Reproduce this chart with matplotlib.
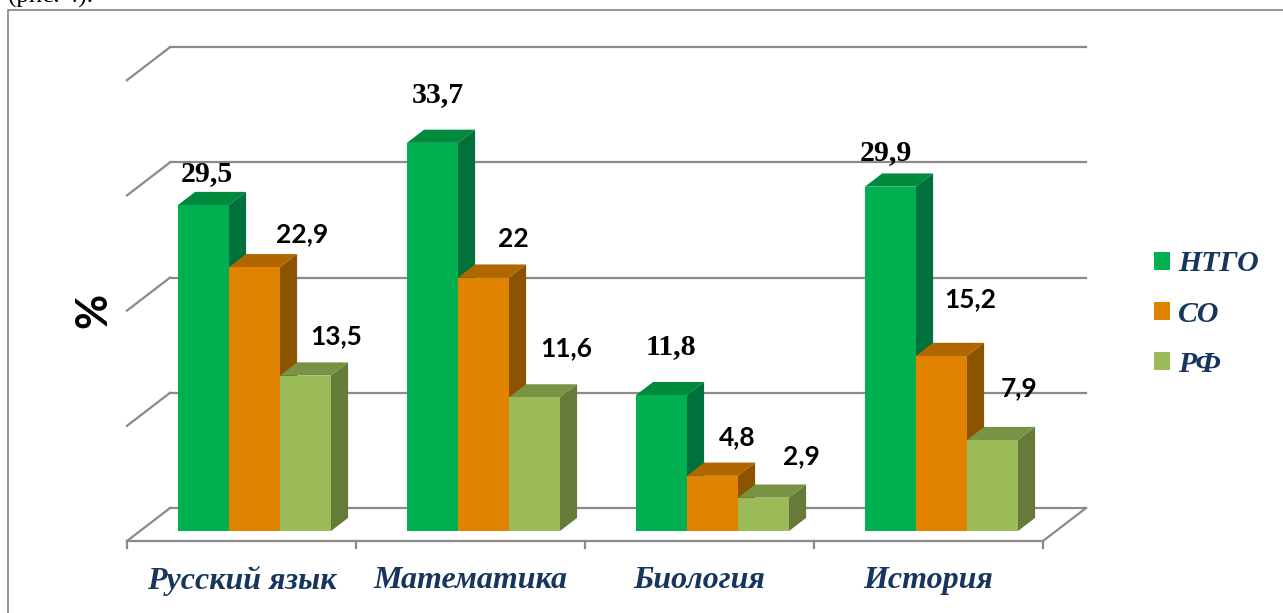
import numpy as np
import matplotlib.pyplot as plt
from matplotlib.patches import Polygon, Patch

# data (bar heights) and the printed labels
subjects = ['Русский язык', 'Математика', 'Биология', 'История']
series = ['НТГО', 'СО', 'РФ']
ntgo = [28.3, 33.7, 11.8, 29.9]
so = [22.9, 22.0, 4.8, 15.2]
rf = [13.5, 11.6, 2.9, 7.9]
ntgo_lbl = ['29,5', '33,7', '11,8', '29,9']
so_lbl = ['22,9', '22', '4,8', '15,2']
rf_lbl = ['13,5', '11,6', '2,9', '7,9']
y_ticks = [0, 10, 20, 30, 40]

# look
front = ['#00B050', '#E08300', '#9BBB59']
top = ['#008A3E', '#B06700', '#7A9243']
side = ['#00713A', '#8C5300', '#667A3A']
grid_c = '#8A8A8A'
navy = '#17365D'

# label nudges in pixels (dx, dy) relative to bar front-top centre
label_nudge = [
    [(3, 32), (5, 48), (10, 49), (-4, 34)],
    [(48, 33), (30, 39), (25, 39), (29, 57)],
    [(31, 39), (32, 49), (38, 42), (27, 52)],
]

W, H = 1283, 613
fig = plt.figure(figsize=(W / 100, H / 100), dpi=100)
ax = fig.add_axes([0, 0, 1, 1])
px_x = 229.0   # pixels per category
px_y = 11.52   # pixels per percent
x0_px, y0_px = 127, 541
ax.set_xlim(-x0_px / px_x, (W - x0_px) / px_x)
ax.set_ylim((y0_px - H) / px_y, y0_px / px_y)
ax.axis('off')

DX = 43 / px_x      # depth offset (category units)
DY = 33 / px_y      # depth offset (percent units)
d0, d1 = 0.3, 0.7   # bar depth slice
n = len(subjects)

# walls and floor
for v in y_ticks:
    ax.plot([DX, n + DX], [v + DY, v + DY], color=grid_c, lw=1.6, zorder=1)
    ax.plot([0, DX], [v, v + DY], color=grid_c, lw=1.6, zorder=1)
ax.plot([0, n], [0, 0], color=grid_c, lw=1.6, zorder=1)
ax.plot([n, n + DX], [0, DY], color=grid_c, lw=1.6, zorder=1)
for i in range(n + 1):
    ax.plot([i, i], [0, -7 / px_y], color=grid_c, lw=1.6, zorder=1)

# bars
w = 0.2227
x_left = np.arange(n) + 0.5 - 1.5 * w
data = [ntgo, so, rf]
labels = [ntgo_lbl, so_lbl, rf_lbl]
for j, vals in enumerate(data):
    left = x_left + j * w
    for i, v in enumerate(vals):
        l = left[i]
        ax.add_patch(Polygon([(l + d0 * DX, v + d0 * DY), (l + w + d0 * DX, v + d0 * DY),
                              (l + w + d1 * DX, v + d1 * DY), (l + d1 * DX, v + d1 * DY)],
                             closed=True, fc=top[j], ec='none', zorder=3 + 2 * j))
        ax.add_patch(Polygon([(l + w + d0 * DX, d0 * DY), (l + w + d1 * DX, d1 * DY),
                              (l + w + d1 * DX, v + d1 * DY), (l + w + d0 * DX, v + d0 * DY)],
                             closed=True, fc=side[j], ec='none', zorder=3 + 2 * j))
    ax.bar(left + d0 * DX, vals, width=w, bottom=d0 * DY, align='edge',
           color=front[j], zorder=4 + 2 * j)
    for i, v in enumerate(vals):
        if j == 0:
            kw = dict(family='Liberation Serif', fontsize=21.5)
        else:
            kw = dict(family='Lato', fontsize=19)
        ax.annotate(labels[j][i], xy=(left[i] + w / 2 + d0 * DX, v + d0 * DY),
                    xytext=label_nudge[j][i], textcoords='offset pixels',
                    ha='center', va='center', fontweight='bold', color='black',
                    zorder=20, **kw)

# category names
for i, s in enumerate(subjects):
    ax.text(i + 0.5, -3.47, s, ha='center', va='center', fontsize=23,
            family='Liberation Serif', fontweight='bold', fontstyle='italic', color=navy)

ax.text(-0.145, 20.0, '%', rotation=90, ha='center', va='center', fontsize=31,
        family='Lato', fontweight='bold')

handles = [Patch(fc=c, ec='none') for c in front]
ax.legend(handles, series, loc='center left', bbox_to_anchor=(1154 / W, 1 - 314 / H),
          frameon=False, borderpad=0, borderaxespad=0, handlelength=0.55,
          handleheight=0.55, handletextpad=0.25, labelspacing=0.78, labelcolor=navy,
          prop=dict(family='Liberation Serif', weight='bold', style='italic', size=21.5))

# outer frame and clipped caption above
ax.plot([8 / W, 8 / W, 1.01], [-0.01, 1 - 10 / H, 1 - 10 / H], transform=ax.transAxes,
        color='#8C8C8C', lw=1.3, clip_on=False)
ax.text(8 / W, 1 - 3 / H, '(рис. 4).', transform=ax.transAxes, va='baseline',
        fontsize=18, family='Liberation Serif')

fig.savefig('out.png', dpi=100)
